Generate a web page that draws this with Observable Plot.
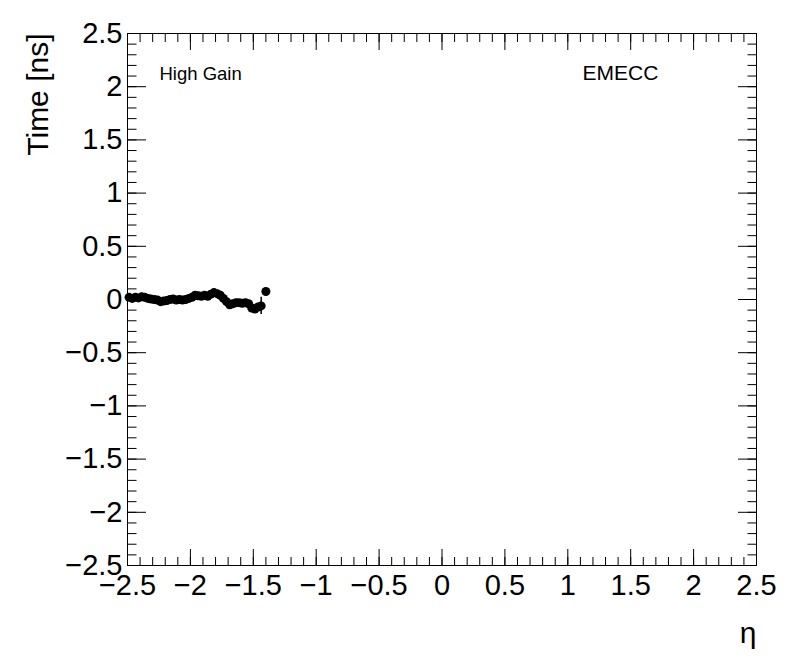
<!DOCTYPE html>
<html>
<head>
<meta charset="utf-8">
<script src="https://cdn.jsdelivr.net/npm/d3@7"></script>
<script src="https://cdn.jsdelivr.net/npm/@observablehq/plot@0.6"></script>
<style>
  html, body { margin: 0; padding: 0; background: #fff; }
  #chart { width: 796px; height: 672px; }
</style>
</head>
<body>
<div id="chart"></div>
<script>
const eta = [
  -2.4875, -2.4625, -2.4375, -2.4125, -2.3875, -2.3625, -2.3375, -2.3125, -2.2875, -2.2625,
  -2.2375, -2.2125, -2.1875, -2.1625, -2.1375, -2.1125, -2.0875, -2.0625, -2.0375, -2.0125,
  -1.9875, -1.9625, -1.9375, -1.9125, -1.8875, -1.8625, -1.8375, -1.8125, -1.7875, -1.7625,
  -1.7375, -1.7125, -1.6875, -1.6625, -1.6375, -1.6125, -1.5875, -1.5625, -1.5375, -1.5125,
  -1.4875, -1.4625, -1.4375, -1.4000
];
const time = [
  0.02, 0.01, 0.02, 0.015, 0.025, 0.02, 0.01, 0.005, 0.0, -0.005,
  -0.02, -0.015, -0.01, 0.0, 0.005, -0.005, 0.0, -0.005, 0.0, 0.01,
  0.02, 0.04, 0.035, 0.03, 0.04, 0.03, 0.05, 0.065, 0.055, 0.04,
  0.01, -0.02, -0.05, -0.04, -0.03, -0.03, -0.035, -0.03, -0.04, -0.08,
  -0.09, -0.07, -0.06, 0.075
];
const timeErr = [
  0.01, 0.01, 0.01, 0.01, 0.01, 0.01, 0.01, 0.01, 0.01, 0.01,
  0.01, 0.01, 0.01, 0.01, 0.01, 0.01, 0.01, 0.01, 0.01, 0.01,
  0.01, 0.01, 0.01, 0.01, 0.01, 0.01, 0.01, 0.01, 0.01, 0.01,
  0.01, 0.01, 0.01, 0.01, 0.01, 0.015, 0.015, 0.015, 0.02, 0.02,
  0.02, 0.03, 0.08, 0.01
];
const xTicks = [-2.5, -2, -1.5, -1, -0.5, 0, 0.5, 1, 1.5, 2, 2.5];
const yTicks = [-2.5, -2, -1.5, -1, -0.5, 0, 0.5, 1, 1.5, 2, 2.5];
const minorTicks = d3.range(-25, 26).map(i => i / 10);
const xTitle = "η";
const yTitle = "Time [ns]";
const gainLabel = "High Gain";
const partitionLabel = "EMECC";

const rows = eta.map((e, i) => ({eta: e, t: time[i], lo: time[i] - timeErr[i], hi: time[i] + timeErr[i]}));
const fmt = d3.format("~g");
const noText = () => "";
const font = "'Liberation Sans', Arial, Helvetica, sans-serif";

const plot = Plot.plot({
  width: 796,
  height: 672,
  marginLeft: 127,
  marginRight: 40,
  marginTop: 33,
  marginBottom: 107,
  style: {fontFamily: font, background: "#fff", color: "#000"},
  x: {domain: [-2.5, 2.5]},
  y: {domain: [-2.5, 2.5]},
  marks: [
    Plot.axisX(xTicks, {anchor: "bottom", tickSize: 16, dy: -16, tickFormat: noText, label: null, stroke: "#000", strokeWidth: 1}),
    Plot.axisX(minorTicks, {anchor: "bottom", tickSize: 8, dy: -8, tickFormat: noText, label: null, stroke: "#000", strokeWidth: 1}),
    Plot.axisX(xTicks, {anchor: "top", tickSize: 16, dy: 16, tickFormat: noText, label: null, stroke: "#000", strokeWidth: 1}),
    Plot.axisX(minorTicks, {anchor: "top", tickSize: 8, dy: 8, tickFormat: noText, label: null, stroke: "#000", strokeWidth: 1}),
    Plot.axisY(yTicks, {anchor: "left", tickSize: 19, dx: 19, tickFormat: noText, label: null, stroke: "#000", strokeWidth: 1}),
    Plot.axisY(minorTicks, {anchor: "left", tickSize: 9.5, dx: 9.5, tickFormat: noText, label: null, stroke: "#000", strokeWidth: 1}),
    Plot.axisY(yTicks, {anchor: "right", tickSize: 19, dx: -19, tickFormat: noText, label: null, stroke: "#000", strokeWidth: 1}),
    Plot.axisY(minorTicks, {anchor: "right", tickSize: 9.5, dx: -9.5, tickFormat: noText, label: null, stroke: "#000", strokeWidth: 1}),
    Plot.axisX(xTicks, {anchor: "bottom", tickSize: 0, tickPadding: 9, tickFormat: fmt, label: null, fontSize: 29, fill: "#000"}),
    Plot.axisY(yTicks, {anchor: "left", tickSize: 0, tickPadding: 5, tickFormat: fmt, label: null, fontSize: 29, fill: "#000"}),
    Plot.frame({stroke: "#000", strokeWidth: 1}),
    Plot.ruleX(rows, {x: "eta", y1: "lo", y2: "hi", stroke: "#000", strokeWidth: 1.5}),
    Plot.dot(rows, {x: "eta", y: "t", r: 4.5, fill: "#000", stroke: null}),
    Plot.text([yTitle], {frameAnchor: "top-left", text: d => d, rotate: -90, textAnchor: "end", lineAnchor: "middle", dx: -89, dy: 0, fontSize: 30, fill: "#000"}),
    Plot.text([xTitle], {frameAnchor: "bottom-right", text: d => d, textAnchor: "end", lineAnchor: "middle", dx: 0, dy: 68, fontSize: 30, fill: "#000"}),
    Plot.text([gainLabel], {frameAnchor: "top-left", text: d => d, textAnchor: "start", lineAnchor: "middle", dx: 32, dy: 41, fontSize: 18.5, fill: "#000"}),
    Plot.text([partitionLabel], {frameAnchor: "top-left", text: d => d, textAnchor: "start", lineAnchor: "middle", dx: 455, dy: 40, fontSize: 21, fill: "#000"})
  ]
});
document.getElementById("chart").appendChild(plot);
</script>
</body>
</html>
